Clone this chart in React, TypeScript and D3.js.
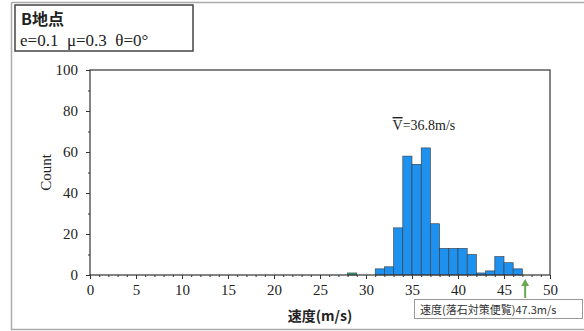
import React, { useEffect, useRef } from "react";
import * as d3 from "d3";

// histogram bins (1 m/s wide): [start, count]
const binStarts = [28, 31, 32, 33, 34, 35, 36, 37, 38, 39, 40, 41, 42, 43, 44, 45, 46];
const binCounts = [1, 3, 4, 23, 58, 54, 62, 25, 13, 13, 13, 10, 1, 2, 9, 6, 3];
const xTicks = [0, 5, 10, 15, 20, 25, 30, 35, 40, 45, 50];
const yTicks = [0, 20, 40, 60, 80, 100];
const meanSpeed = 36.8;
const refSpeed = 47.3;

export default function App() {
  const svgRef = useRef<SVGSVGElement>(null);

  useEffect(() => {
    if (!svgRef.current) return;
    const svg = d3.select(svgRef.current);
    svg.selectAll("*").remove();

    const left = 90, right = 550, top = 70, bottom = 275;
    const x = d3.scaleLinear().domain([0, 50]).range([left, right]);
    const y = d3.scaleLinear().domain([0, 100]).range([bottom, top]);
    const serif = "'Liberation Serif', 'Times New Roman', serif";

    svg.append("rect").attr("width", 584).attr("height", 331).attr("fill", "#fff");

    // outer frame
    svg.append("path")
      .attr("d", "M11.5,2.5 H584 M11.5,2.5 V329.5 H584")
      .attr("fill", "none")
      .attr("stroke", "#aaa")
      .attr("stroke-width", 1.5);

    // bars
    const bins = binStarts.map((s, i) => ({ s, c: binCounts[i] }));
    svg.append("g")
      .selectAll("rect")
      .data(bins)
      .enter()
      .append("rect")
      .attr("x", (d) => x(d.s))
      .attr("y", (d) => y(d.c))
      .attr("width", (d) => x(d.s + 1) - x(d.s))
      .attr("height", (d) => y(0) - y(d.c))
      .attr("fill", (d) => (d.s < 30 ? "#2db38a" : "#1e90ee"))
      .attr("stroke", "#3a3a3a")
      .attr("stroke-width", 0.6);

    // plot frame
    svg.append("rect")
      .attr("x", left).attr("y", top)
      .attr("width", right - left).attr("height", bottom - top)
      .attr("fill", "none").attr("stroke", "#333").attr("stroke-width", 1.2);

    // x axis
    const xAxis = svg.append("g").attr("transform", `translate(0,${bottom})`)
      .call(d3.axisBottom(x).tickValues(xTicks).tickSize(4).tickFormat(d3.format("d")));
    xAxis.select(".domain").remove();
    xAxis.selectAll("text").attr("font-family", serif).attr("font-size", 15).attr("fill", "#222").attr("dy", "0.85em");
    xAxis.selectAll("line").attr("stroke", "#333");
    svg.append("g").attr("transform", `translate(0,${bottom})`)
      .call(d3.axisBottom(x).ticks(50).tickSize(2).tickFormat(() => ""))
      .call((g) => g.select(".domain").remove())
      .selectAll("line").attr("stroke", "#333");

    // y axis
    const yAxis = svg.append("g").attr("transform", `translate(${left},0)`)
      .call(d3.axisLeft(y).tickValues(yTicks).tickSize(4).tickPadding(8).tickFormat(d3.format("d")));
    yAxis.select(".domain").remove();
    yAxis.selectAll("text").attr("font-family", serif).attr("font-size", 15).attr("fill", "#222");
    yAxis.selectAll("line").attr("stroke", "#333");
    svg.append("g").attr("transform", `translate(${left},0)`)
      .call(d3.axisLeft(y).ticks(10).tickSize(2).tickFormat(() => ""))
      .call((g) => g.select(".domain").remove())
      .selectAll("line").attr("stroke", "#333");

    // axis titles
    svg.append("text")
      .attr("x", 320).attr("y", 321)
      .attr("text-anchor", "middle")
      .attr("font-family", "'Noto Sans CJK JP', serif")
      .attr("font-weight", "bold")
      .attr("font-size", 14)
      .attr("fill", "#222")
      .text("速度(m/s)");
    svg.append("text")
      .attr("transform", `translate(51,${(top + bottom) / 2}) rotate(-90)`)
      .attr("text-anchor", "middle")
      .attr("font-family", serif)
      .attr("font-size", 15)
      .attr("fill", "#222")
      .text("Count");

    // mean label
    const mx = x(meanSpeed);
    const mt = svg.append("text")
      .attr("x", mx - 36).attr("y", 130)
      .attr("font-family", serif)
      .attr("font-size", 14)
      .attr("fill", "#222");
    mt.append("tspan").attr("text-decoration", "overline").text("V");
    mt.append("tspan").text("=36.8m/s");

    // reference arrow
    const ax = x(refSpeed);
    svg.append("line")
      .attr("x1", ax).attr("x2", ax).attr("y1", 298).attr("y2", 283)
      .attr("stroke", "#6aa84f").attr("stroke-width", 2);
    svg.append("path")
      .attr("d", `M${ax - 4},${286} L${ax},${279} L${ax + 4},${286} Z`)
      .attr("fill", "#6aa84f");

    // reference label box
    svg.append("rect")
      .attr("x", 414.5).attr("y", 299.5).attr("width", 168).attr("height", 19)
      .attr("fill", "#fff").attr("stroke", "#999").attr("stroke-width", 1);
    svg.append("text")
      .attr("x", 420).attr("y", 313.5)
      .attr("font-family", "'Noto Sans CJK JP', serif")
      .attr("font-size", 11)
      .attr("fill", "#333")
      .text(`速度(落石対策便覧)${refSpeed}m/s`);

    // info box
    svg.append("rect")
      .attr("x", 15).attr("y", 5).attr("width", 178).attr("height", 46)
      .attr("fill", "#fff").attr("stroke", "#444").attr("stroke-width", 1.5);
    svg.append("text")
      .attr("x", 21).attr("y", 25)
      .attr("font-family", "'Noto Sans CJK JP', serif")
      .attr("font-weight", "bold")
      .attr("font-size", 16)
      .attr("fill", "#222")
      .text("B地点");
    svg.append("text")
      .attr("x", 20).attr("y", 46)
      .attr("font-family", serif)
      .attr("font-size", 17)
      .attr("fill", "#222")
      .text("e=0.1  μ=0.3  θ=0°")
      .attr("xml:space", "preserve")
      .style("white-space", "pre");
  }, []);

  return (
    <svg
      ref={svgRef}
      width={584}
      height={331}
      style={{ position: "absolute", left: 0, top: 0 }}
    />
  );
}
